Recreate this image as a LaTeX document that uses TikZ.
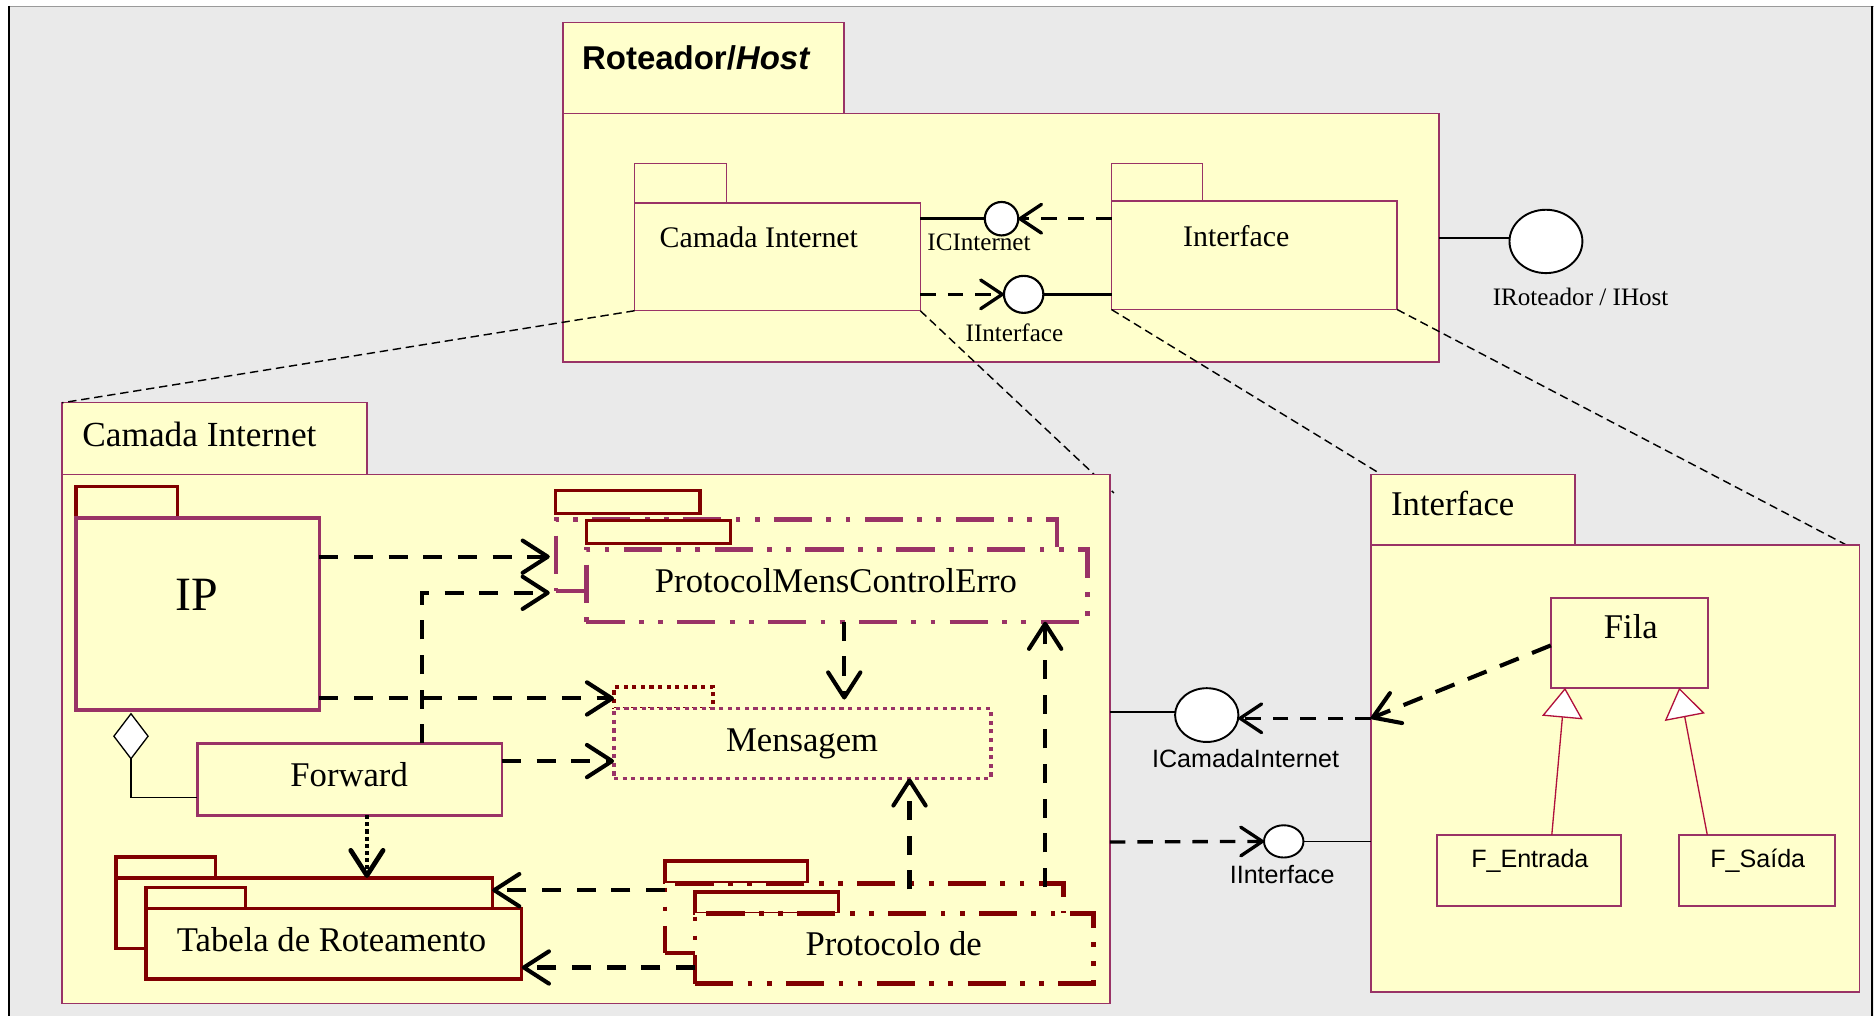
\documentclass[tikz,border=0pt]{standalone}
\usepackage{fontspec}
\setmainfont{Liberation Serif}
\setsansfont{Liberation Sans}
\usetikzlibrary{arrows.meta,shapes.geometric}

\definecolor{paper}{HTML}{FFFFCC}
\definecolor{pkline}{HTML}{993366}
\definecolor{dkred}{HTML}{800000}
\definecolor{bggrey}{HTML}{EAEAEA}
\definecolor{topline}{HTML}{9A9A9A}
\definecolor{genred}{HTML}{B0103C}

\newcommand\tsz[1]{\fontsize{#1bp}{#1bp}\selectfont}

\begin{document}
\begin{tikzpicture}[x=1bp,y=-1bp,
  >={Straight Barb[length=21bp,width=27bp,round]},
  wh/.style 2 args={minimum width=#1bp, minimum height=#2bp},
  base/.style={rectangle, inner sep=0pt, outer sep=0pt, anchor=north west, fill=paper},
  pk/.style={base, draw=pkline, line width=1.2bp},
  cls/.style={base, draw=pkline, line width=1.5bp},
  tabr/.style={base, draw=dkred, line width=2.8bp},
  ipb/.style={base, draw=pkline, line width=3bp},
  fwdb/.style={base, draw=pkline, line width=2.4bp},
  ddot/.style={dash pattern=on 32bp off 12bp on 4bp off 12bp on 4bp off 12bp, line width=3.6bp},
  dotp/.style={dash pattern=on 3.5bp off 3.7bp, line width=3bp},
  dep/.style={draw=black, line width=3.4bp, dash pattern=on 16bp off 13bp, ->},
  ldep/.style={draw=black, line width=2.8bp, dash pattern=on 13bp off 10bp,
    -{Straight Barb[length=18bp,width=24bp,round]}},
  trace/.style={draw=black, line width=1.2bp, dash pattern=on 7bp off 4bp},
  lolly/.style={ellipse, draw=black, fill=white, line width=1.8bp, inner sep=0pt, outer sep=0pt},
  gen/.style={draw=genred, line width=1.1bp,
    -{Triangle[open, length=25bp, width=34bp, fill=white]}},
  lbl/.style={anchor=base west, inner sep=0pt, outer sep=0pt},
  big/.style={lbl, font=\tsz{29}},
  small/.style={lbl, font=\tsz{21}},
  sml/.style={lbl, font=\sffamily\tsz{21}}
]
\useasboundingbox (0,0) rectangle (1568,850);

% frame
\fill[bggrey] (7,5) rectangle (1568,850);
\draw[topline, line width=1.2bp] (7,5.6) -- (1568,5.6);
\draw[black, line width=1.6bp] (7.8,5) -- (7.8,850);
\draw[black, line width=1.6bp] (1566.6,5) -- (1566.6,850);

% ---------- Roteador/Host package ----------
\node[pk, wh={235}{76}] (rtab) at (471,19) {};
\node[pk, wh={733}{208}] (rbody) at (471,95) {};
\node[lbl, font=\sffamily\bfseries\tsz{27.6}] (rname) at (487,58.5) {Roteador/\textit{Host}};

\node[pk, wh={77}{33}] (citab) at (531,137) {};
\node[pk, wh={239}{90}] (cibody) at (531,170) {};
\node[lbl, font=\tsz{25}] (ciname) at (552,207.5) {Camada Internet};

\node[pk, wh={76}{31}] (iftab) at (930,137) {};
\node[pk, wh={239}{91}] (ifbody) at (930,168) {};
\node[lbl, font=\tsz{25}] (ifname) at (990,206.5) {Interface};

% provided / required interfaces inside the router
\node[lolly, minimum width=28bp, minimum height=28bp] (icint) at (838,183) {};
\node[small] (icintl) at (776,209.8) {ICInternet};
\draw[line width=2.3bp] (cibody.east |- icint) -- (icint.west);
\draw[ldep] (ifbody.west |- icint) -- (icint.east);

\node[lolly, minimum width=33bp, minimum height=31bp] (iinta) at (856.5,246.3) {};
\node[small] (iintal) at (808,286) {IInterface};
\draw[ldep] (cibody.east |- iinta) -- (iinta.west);
\draw[line width=2.6bp] (iinta.east) -- (ifbody.west |- iinta);

\node[lolly, line width=1.6bp, minimum width=61bp, minimum height=53bp] (irot) at (1293.5,202) {};
\node[small] (irotl) at (1249,256) {IRoteador / IHost};
\draw[line width=1.4bp] (rbody.east |- 0,199) -- (irot.west |- 0,199);

% refinement traces
\coordinate (ciend) at (932,412.5);
\coordinate (ifend) at (1155,396.5);
\coordinate (bifend) at (1544,455.5);
\draw[trace] (cibody.south east) -- (ciend);
\draw[trace] (ifbody.south west) -- (ifend);
\draw[trace] (ifbody.south east) -- (bifend);

% ---------- Camada Internet package ----------
\node[pk, wh={255}{60}] (bcitab) at (52,337) {};
\node[pk, wh={876.6}{442.6}] (bcibody) at (52,397) {};
\node[big, font=\tsz{29.5}] (bciname) at (69,374) {Camada Internet};
\draw[trace] (cibody.south west) -- (bcitab.north west);

% IP
\node[tabr, wh={85}{26.5}] (iptab) at (63.5,407) {};
\node[ipb, wh={203.7}{160.5}] (ipbody) at (63.5,433.5) {};
\node[lbl, font=\tsz{40}] (ipname) at (147,510.5) {IP};

% Forward
\node[fwdb, wh={255}{60}] (fwd) at (165,622) {};
\node[big] (fwdname) at (243,658.3) {Forward};
\node[diamond, draw=black, fill=white, line width=1.1bp, inner sep=0pt, outer sep=0pt,
      minimum width=28.6bp, minimum height=37.6bp] (diam) at (109.6,616) {};
\draw[line width=1.2bp] (diam.south) |- (fwd.west |- 0,667.2);

% ProtocolMensControlErro
\node[tabr, wh={120.7}{19}] (pmbtab) at (465,410.6) {};
\node[base, draw=pkline, ddot, wh={419.4}{59.7}] (pmback) at (465,434.6) {};
\node[tabr, wh={120.7}{19}] (pmftab) at (490.6,435.7) {};
\node[base, draw=pkline, ddot, wh={419.4}{60.5}] (pmfront) at (490.6,459.7) {};
\node[big] (pmname) at (548,496) {ProtocolMensControlErro};

% Mensagem
\node[base, draw=dkred, dotp, wh={83}{18.2}] (mtab) at (513.8,574.6) {};
\node[base, draw=pkline, dotp, wh={315.2}{58.5}] (msg) at (513.8,592.8) {};
\node[big] (msgname) at (607.5,629) {Mensagem};

% Tabela de Roteamento
\node[tabr, wh={83.5}{17.5}] (tbtab) at (97,717) {};
\node[tabr, wh={314.8}{59.1}] (tback) at (97,734.5) {};
\node[tabr, wh={83}{17.6}] (tftab) at (122.3,742.5) {};
\node[tabr, wh={314.3}{59.1}] (tfront) at (122.3,760.1) {};
\node[big] (tname) at (148,796.4) {Tabela de Roteamento};

% Protocolo de
\node[tabr, wh={119.4}{18.1}] (pbtab) at (556.5,720.5) {};
\node[base, draw=dkred, ddot, wh={333.3}{58}] (pback) at (556.5,739.2) {};
\node[tabr, wh={119.9}{18.1}] (pftab) at (581.6,746.2) {};
\node[base, draw=dkred, ddot, wh={333.4}{58.6}] (pfront) at (581.6,764.3) {};
\node[big] (pname) at (674,799.2) {Protocolo de};

% dependencies
\draw[dep, shorten >=5bp] (ipbody.east |- 0,465.8) -- (pmback.west |- 0,465.8);
\draw[dep, shorten >=5bp] (fwd.north -| 353,0) |- (pmback.west |- 0,496);
\draw[dep] (ipbody.east |- 0,584.4) -- (mtab.west |- 0,584.4);
\draw[dep] (fwd.east |- 0,636.8) -- (msg.west |- 0,636.8);
\draw[dep, shorten >=7.5bp] (pmfront.south -| 706.4,0) -- (msg.north -| 706.4,0);
\draw[line width=4bp, dash pattern=on 3.5bp off 2.5bp, ->] (fwd.south -| 307,0) -- (tback.north -| 307,0);
\draw[dep] (pback.west |- 0,744.8) -- (tback.east |- 0,744.8);
\draw[dep] (pfront.west |- 0,809.5) -- (tfront.east |- 0,809.5);
\draw[dep, shorten <=-5bp] (pback.north -| 761,0) -- (msg.south -| 761,0);
\draw[dep, shorten <=-3bp] (pback.north -| 874.5,0) -- (pmfront.south -| 874.5,0);

% ---------- Interface package ----------
\node[pk, wh={170.8}{59}] (biftab) at (1147,397) {};
\node[pk, wh={408.7}{374}] (bifbody) at (1147,456) {};
\node[big] (bifname) at (1164,431.6) {Interface};

\node[cls, wh={131.8}{75.4}] (fila) at (1297.6,500.1) {};
\node[big] (filaname) at (1342,534.2) {Fila};
\node[cls, wh={154}{59.3}] (fent) at (1202.2,698.6) {};
\node[sml] (fentname) at (1231,725.6) {F\_Entrada};
\node[cls, wh={131}{59.3}] (fsai) at (1404.6,698.6) {};
\node[sml] (fsainame) at (1431,725.6) {F\_Saída};

\draw[gen] (fent.north -| 1298.4,0) -- (fila.south -| 1309.5,0);
\draw[gen] (fsai.north -| 1428.5,0) -- (fila.south -| 1405,0);
\draw[dep, dash pattern=on 17bp off 12bp] (fila.west |- 0,540) -- (bifbody.west |- 0,601);

% interfaces between the two layers
\node[lolly, line width=1.6bp, minimum width=53bp, minimum height=45bp] (icam) at (1009.7,598.3) {};
\node[sml] (icaml) at (964,642.5) {ICamadaInternet};
\draw[line width=1.3bp] (bcibody.east |- 0,595.6) -- (icam.west |- 0,595.6);
\draw[ldep] (bifbody.west |- 0,601) -- (icam.east |- 0,601);

\node[lolly, line width=1.6bp, minimum width=33bp, minimum height=27bp] (iintb) at (1074.1,704) {};
\node[sml] (iintbl) at (1029,739.6) {IInterface};
\draw[ldep] (bcibody.east |- 0,704.5) -- (iintb.west);
\draw[line width=1.3bp] (iintb.east) -- (bifbody.west |- iintb);
\end{tikzpicture}
\end{document}
